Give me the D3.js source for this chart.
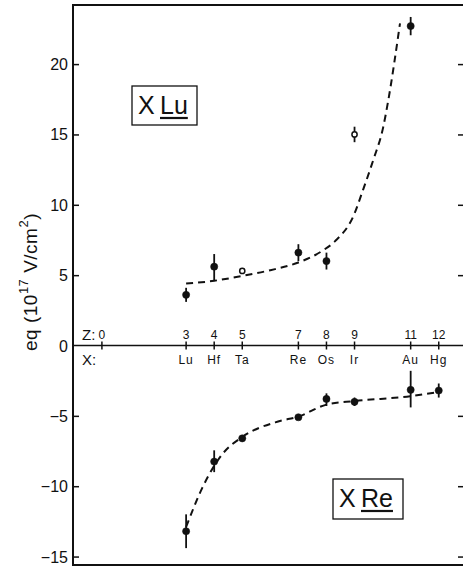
<!DOCTYPE html>
<html>
<head>
<meta charset="utf-8">
<script src="https://cdn.jsdelivr.net/npm/d3@7"></script>
<style>
  body { margin: 0; background: #fff; }
  text { font-family: "Liberation Sans", "DejaVu Sans", sans-serif; fill: #111; }
</style>
</head>
<body>
<svg id="chart"></svg>
<script>
// element symbols and their position index Z along the zero line
const elements = ["Lu", "Hf", "Ta", "Re", "Os", "Ir", "Au", "Hg"];
const zValues = [3, 4, 5, 7, 8, 9, 11, 12];
const yTicks = [-15, -10, -5, 0, 5, 10, 15, 20];

// X Lu series (upper half)
const luZ = [3, 4, 5, 7, 8, 9, 11];
const luEq = [3.6, 5.6, 5.3, 6.6, 6.0, 15.0, 22.7];
const luHi = [4.1, 6.5, 5.3, 7.2, 6.6, 15.55, 23.35];
const luLo = [3.1, 4.6, 5.3, 6.0, 5.4, 14.45, 22.05];
const luOpen = [false, false, true, false, false, true, false];
const luCurveZ = [3, 4, 5, 6, 7, 7.83, 8.3, 8.96, 9.31, 9.67, 10.02, 10.2, 10.62];
const luCurveEq = [4.4, 4.6, 4.95, 5.35, 5.9, 6.7, 7.4, 9.2, 11.1, 13.2, 15.5, 17.4, 22.9];

// X Re series (lower half)
const reZ = [3, 4, 5, 7, 8, 9, 11, 12];
const reEq = [-13.2, -8.25, -6.6, -5.1, -3.8, -4.0, -3.15, -3.2];
const reHi = [-12.0, -7.45, -6.6, -5.1, -3.4, -3.7, -1.8, -2.7];
const reLo = [-14.4, -9.0, -6.6, -5.1, -4.3, -4.3, -4.4, -3.7];
const reCurveZ = [3, 3.58, 4.3, 5, 6.28, 7, 8, 9, 11, 12];
const reCurveEq = [-12.9, -10.1, -7.7, -6.5, -5.4, -5.05, -4.2, -3.95, -3.6, -3.3];

const W = 463, H = 574;
const plotLeft = 73, plotRight = 464, plotTop = 5, plotBottom = 565;

const svg = d3.select("#chart").attr("width", W).attr("height", H);

const x = d3.scaleLinear().domain([-1.03, 12.9]).range([plotLeft, plotRight]);
const y = d3.scaleLinear().domain([-15.6, 24.2]).range([plotBottom, plotTop]);

// frame
svg.append("path")
    .attr("d", `M${plotRight},${plotTop}H${plotLeft}V${plotBottom}H${plotRight}`)
    .attr("fill", "none")
    .attr("stroke", "#111")
    .attr("stroke-width", 2);

// left axis, ticks pointing in
const yAxis = svg.append("g")
    .attr("transform", `translate(${plotLeft},0)`)
    .call(d3.axisRight(y).tickValues(yTicks.filter(d => d !== 0)).tickSize(6).tickFormat(""));
yAxis.select(".domain").remove();
yAxis.selectAll("line").attr("stroke", "#111").attr("stroke-width", 1.5);

svg.append("g").selectAll("text")
    .data(yTicks)
    .join("text")
    .attr("x", plotLeft - 5)
    .attr("y", d => y(d) + 6)
    .attr("text-anchor", "end")
    .style("font-size", "16px")
    .text(d => d < 0 ? "\u2212" + Math.abs(d) : d);

// right side ticks
const yAxisR = svg.append("g")
    .attr("transform", `translate(${plotRight},0)`)
    .call(d3.axisLeft(y).tickValues(yTicks.filter(d => d !== 0)).tickSize(6).tickFormat(""));
yAxisR.select(".domain").remove();
yAxisR.selectAll("line").attr("stroke", "#111").attr("stroke-width", 1.5);

// y label
svg.append("text")
    .attr("transform", `translate(37,282) rotate(-90)`)
    .attr("text-anchor", "middle")
    .style("font-size", "19px")
    .style("letter-spacing", "0.5px")
    .html('eq  (10<tspan dy="-9" style="font-size:13px">17</tspan><tspan dy="9">  V/cm</tspan><tspan dy="-9" style="font-size:13px">2</tspan><tspan dy="9">)</tspan>');

// zero line with element ticks
const y0 = y(0);
svg.append("line")
    .attr("x1", plotLeft).attr("x2", plotRight)
    .attr("y1", y0).attr("y2", y0)
    .attr("stroke", "#111").attr("stroke-width", 1.5);

const zTicks = [0].concat(zValues);
svg.append("g").selectAll("line")
    .data(zTicks)
    .join("line")
    .attr("x1", d => x(d)).attr("x2", d => x(d))
    .attr("y1", y0 - 4).attr("y2", y0 + 4)
    .attr("stroke", "#111").attr("stroke-width", 1.5);

svg.append("g").selectAll("text")
    .data(zTicks)
    .join("text")
    .attr("x", d => x(d))
    .attr("y", y0 - 7)
    .attr("text-anchor", "middle")
    .style("font-size", "12px")
    .text(d => d);

svg.append("g").selectAll("text")
    .data(elements)
    .join("text")
    .attr("x", (d, i) => x(zValues[i]))
    .attr("y", y0 + 18)
    .attr("text-anchor", "middle")
    .style("font-size", "12px")
    .style("letter-spacing", "1px")
    .text(d => d);

svg.append("text").attr("x", 82).attr("y", y0 - 6).style("font-size", "15px").text("Z:");
svg.append("text").attr("x", 82).attr("y", y0 + 19).style("font-size", "15px").text("X:");

// dashed fit curves
const line = d3.line().x(d => x(d[0])).y(d => y(d[1])).curve(d3.curveMonotoneX);

svg.append("path")
    .datum(luCurveZ.map((z, i) => [z, luCurveEq[i]]))
    .attr("d", line)
    .attr("fill", "none").attr("stroke", "#111")
    .attr("stroke-width", 2).attr("stroke-dasharray", "7,5");

svg.append("path")
    .datum(reCurveZ.map((z, i) => [z, reCurveEq[i]]))
    .attr("d", line)
    .attr("fill", "none").attr("stroke", "#111")
    .attr("stroke-width", 2).attr("stroke-dasharray", "7,5");

// points with error bars
function drawSeries(zs, vals, hi, lo, open) {
    const g = svg.append("g");
    zs.forEach((z, i) => {
        if (hi[i] !== lo[i]) {
            g.append("line")
                .attr("x1", x(z)).attr("x2", x(z))
                .attr("y1", y(hi[i])).attr("y2", y(lo[i]))
                .attr("stroke", "#111").attr("stroke-width", 1.8);
        }
        const isOpen = open && open[i];
        g.append("circle")
            .attr("cx", x(z)).attr("cy", y(vals[i]))
            .attr("r", isOpen ? 2.6 : 3.6)
            .attr("fill", isOpen ? "#fff" : "#111")
            .attr("stroke", "#111")
            .attr("stroke-width", isOpen ? 1.5 : 0.5);
    });
}
drawSeries(luZ, luEq, luHi, luLo, luOpen);
drawSeries(reZ, reEq, reHi, reLo, null);

// boxed labels
function boxLabel(bx, by, bw, bh, sym) {
    svg.append("rect")
        .attr("x", bx).attr("y", by).attr("width", bw).attr("height", bh)
        .attr("fill", "#fff").attr("stroke", "#111").attr("stroke-width", 1.3);
    svg.append("text")
        .attr("x", bx + 6).attr("y", by + 28)
        .style("font-size", "25px")
        .text("X");
    const t = svg.append("text")
        .attr("x", bx + 28).attr("y", by + 28)
        .style("font-size", "25px")
        .text(sym);
    const w = t.node().getComputedTextLength();
    svg.append("line")
        .attr("x1", bx + 28).attr("x2", bx + 28 + w)
        .attr("y1", by + 32).attr("y2", by + 32)
        .attr("stroke", "#111").attr("stroke-width", 2.2);
}
boxLabel(132, 86, 65, 39, "Lu");
boxLabel(333, 479, 70, 40, "Re");
</script>
</body>
</html>
